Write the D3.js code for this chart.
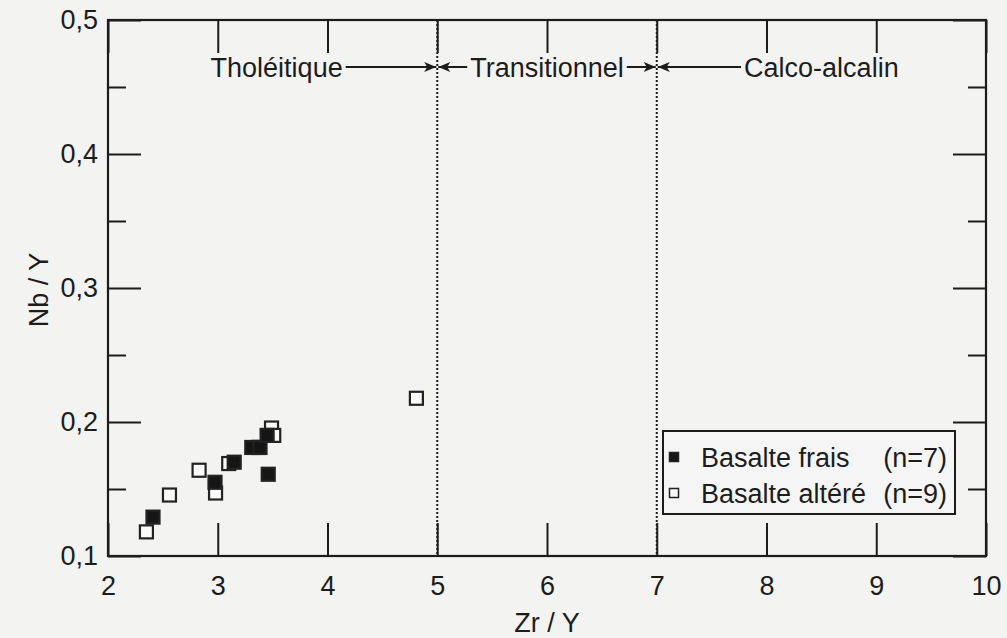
<!DOCTYPE html>
<html>
    <head>
        <title>Nb/Y vs Zr/Y</title>
        <script src="https://d3js.org/d3.v7.min.js"></script>
        <style>
            body { margin: 0; background: #f3f3f2; }
            svg { display: block; font-family: Arial, 'Liberation Sans', sans-serif; }
            .axis path { display: none; }
            .axis line { stroke: #1c1c1c; stroke-width: 2; }
            .axis text { font-size: 27px; fill: #1c1c1c; font-family: Arial, 'Liberation Sans', sans-serif; }
        </style>
    </head>
    <body>
        <svg id="chart" width="1007" height="638"></svg>
        <script>
            // values
            var fraisX = [2.41, 2.975, 3.15, 3.31, 3.385, 3.45, 3.46];
            var fraisY = [0.129, 0.155, 0.170, 0.181, 0.181, 0.190, 0.161];
            var altereX = [2.35, 2.56, 2.83, 2.98, 3.10, 3.37, 3.49, 3.51, 4.81];
            var altereY = [0.118, 0.1455, 0.164, 0.147, 0.169, 0.181, 0.1955, 0.190, 0.2177];
            var xTicks = [2, 3, 4, 5, 6, 7, 8, 9, 10];
            var yTicks = [0.1, 0.2, 0.3, 0.4, 0.5];
            var yMinor = [0.15, 0.25, 0.35, 0.45];
            var bounds = [5, 7];
            var regions = ['Tholéitique', 'Transitionnel', 'Calco-alcalin'];
            var regionEdges = [2, 5, 7, 10];
            var legendLabels = ['Basalte frais', 'Basalte altéré'];
            var legendCounts = ['(n=7)', '(n=9)'];

            var svg = d3.select('#chart');
            var x = d3.scaleLinear().domain([2, 10]).range([108, 986]);
            var y = d3.scaleLinear().domain([0.1, 0.5]).range([556, 20]);
            var fmt = function (d) { return d3.format('.1f')(d).replace('.', ','); };
            var ink = '#1c1c1c';
            var fs = 27;

            // frame
            svg.append('rect')
                .attr('x', x(2)).attr('y', y(0.5))
                .attr('width', x(10) - x(2)).attr('height', y(0.1) - y(0.5))
                .attr('fill', 'none').attr('stroke', ink).attr('stroke-width', 2.2);

            svg.append('g').attr('class', 'axis')
                .attr('transform', 'translate(0,' + y(0.1) + ')')
                .call(d3.axisBottom(x).tickValues(xTicks).tickSizeInner(-33).tickSizeOuter(0).tickPadding(20).tickFormat(d3.format('d')));
            svg.append('g').attr('class', 'axis')
                .attr('transform', 'translate(0,' + y(0.5) + ')')
                .call(d3.axisTop(x).tickValues(xTicks).tickSizeInner(-33).tickSizeOuter(0).tickFormat(''));
            svg.append('g').attr('class', 'axis')
                .attr('transform', 'translate(' + x(2) + ',0)')
                .call(d3.axisLeft(y).tickValues(yTicks).tickSizeInner(-33).tickSizeOuter(0).tickPadding(10).tickFormat(fmt));
            svg.append('g').attr('class', 'axis')
                .attr('transform', 'translate(' + x(2) + ',0)')
                .call(d3.axisLeft(y).tickValues(yMinor).tickSizeInner(-18).tickSizeOuter(0).tickFormat(''));
            svg.append('g').attr('class', 'axis')
                .attr('transform', 'translate(' + x(10) + ',0)')
                .call(d3.axisRight(y).tickValues(yTicks).tickSizeInner(-33).tickSizeOuter(0).tickFormat(''));
            svg.append('g').attr('class', 'axis')
                .attr('transform', 'translate(' + x(10) + ',0)')
                .call(d3.axisRight(y).tickValues(yMinor).tickSizeInner(-18).tickSizeOuter(0).tickFormat(''));

            // axis titles
            svg.append('text')
                .attr('x', x(6)).attr('y', 632)
                .attr('text-anchor', 'middle').attr('font-size', fs).attr('fill', ink)
                .text('Zr / Y');
            svg.append('text')
                .attr('transform', 'translate(48,' + (y(0.3) + 2) + ') rotate(-90)')
                .attr('text-anchor', 'middle').attr('font-size', fs).attr('fill', ink)
                .text('Nb / Y');

            // dotted boundaries
            svg.selectAll('line.bound')
                .data(bounds)
                .enter()
                .append('line')
                .attr('class', 'bound')
                .attr('x1', (d) => x(d)).attr('x2', (d) => x(d))
                .attr('y1', y(0.5)).attr('y2', y(0.1))
                .attr('stroke', ink).attr('stroke-width', 2)
                .attr('stroke-dasharray', '2,2');

            // arrow heads
            var defs = svg.append('defs');
            defs.append('marker')
                .attr('id', 'head')
                .attr('viewBox', '0 0 12 10')
                .attr('refX', 12).attr('refY', 5)
                .attr('markerWidth', 13).attr('markerHeight', 10)
                .attr('markerUnits', 'userSpaceOnUse')
                .attr('orient', 'auto')
                .append('path')
                .attr('d', 'M0,0 L12,5 L0,10 L3,5 Z')
                .attr('fill', ink);

            // region labels with arrows toward boundaries
            var labelY = 77;
            var arrowY = 67;
            regions.forEach(function (name, i) {
                var cx = (x(regionEdges[i]) + x(regionEdges[i + 1])) / 2 + (i === 0 ? 4 : 0);
                var t = svg.append('text')
                    .attr('x', cx).attr('y', labelY)
                    .attr('text-anchor', 'middle').attr('font-size', fs).attr('fill', ink)
                    .text(name);
                var w = t.node().getComputedTextLength();
                if (i > 0) {
                    svg.append('line')
                        .attr('x1', cx - w / 2 - 3).attr('x2', x(regionEdges[i]) + 1)
                        .attr('y1', arrowY).attr('y2', arrowY)
                        .attr('stroke', ink).attr('stroke-width', 2)
                        .attr('marker-end', 'url(#head)');
                }
                if (i < regions.length - 1) {
                    svg.append('line')
                        .attr('x1', cx + w / 2 + 3).attr('x2', x(regionEdges[i + 1]) - 1)
                        .attr('y1', arrowY).attr('y2', arrowY)
                        .attr('stroke', ink).attr('stroke-width', 2)
                        .attr('marker-end', 'url(#head)');
                }
            });

            // points
            var size = 13;
            var altere = altereX.map((v, i) => ({ x: v, y: altereY[i] }));
            var frais = fraisX.map((v, i) => ({ x: v, y: fraisY[i] }));

            svg.selectAll('rect.altere')
                .data(altere)
                .enter()
                .append('rect')
                .attr('class', 'altere')
                .attr('x', (d) => x(d.x) - size / 2).attr('y', (d) => y(d.y) - size / 2)
                .attr('width', size).attr('height', size)
                .attr('fill', '#fafafa').attr('stroke', '#222').attr('stroke-width', 2.2);

            svg.selectAll('rect.frais')
                .data(frais)
                .enter()
                .append('rect')
                .attr('class', 'frais')
                .attr('x', (d) => x(d.x) - size / 2).attr('y', (d) => y(d.y) - size / 2)
                .attr('width', size).attr('height', size)
                .attr('fill', '#151515').attr('stroke', '#222').attr('stroke-width', 2.2);

            // legend
            var lg = svg.append('g');
            lg.append('rect')
                .attr('x', 663).attr('y', 431).attr('width', 292).attr('height', 83)
                .attr('fill', '#f5f5f5').attr('stroke', ink).attr('stroke-width', 2);
            legendLabels.forEach(function (name, i) {
                var yy = 457 + i * 36;
                lg.append('rect')
                    .attr('x', 669.5).attr('y', yy - 4.5).attr('width', 9).attr('height', 9)
                    .attr('fill', i === 0 ? '#151515' : '#fafafa')
                    .attr('stroke', '#222').attr('stroke-width', 1.5);
                lg.append('text')
                    .attr('x', 701).attr('y', yy + 10)
                    .attr('font-size', fs).attr('fill', ink)
                    .text(name);
                lg.append('text')
                    .attr('x', 947).attr('y', yy + 10)
                    .attr('text-anchor', 'end').attr('font-size', fs).attr('fill', ink)
                    .text(legendCounts[i]);
            });
        </script>
    </body>
</html>
